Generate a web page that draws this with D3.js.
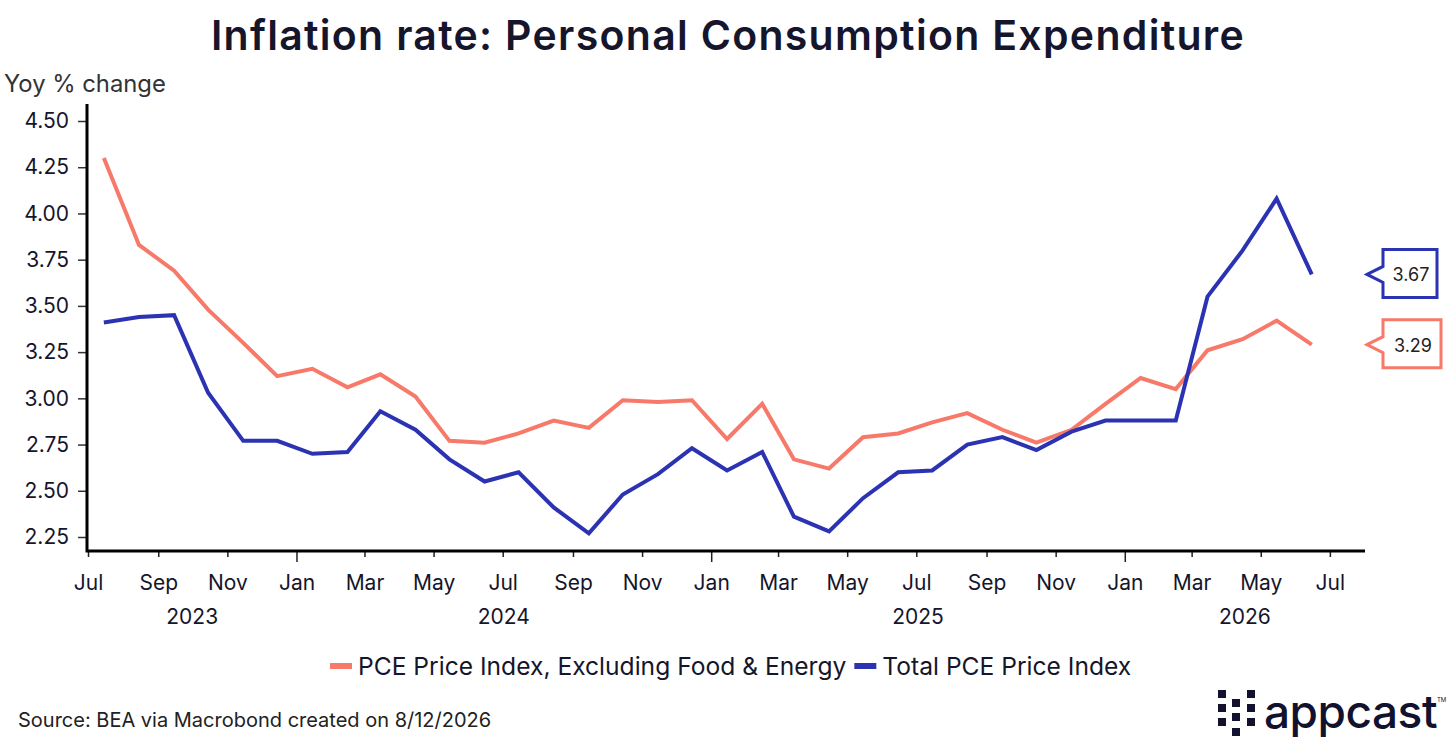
<!DOCTYPE html>
<html>
<head>
<meta charset="utf-8">
<script src="https://cdn.jsdelivr.net/npm/d3@7"></script>
<style>
  body { margin: 0; background: #fff; }
  svg { display: block; font-family: Inter, "Noto Sans", sans-serif; }
</style>
</head>
<body>
<svg id="chart" width="1456" height="753"></svg>
<script>
var months = ["2023-07","2023-08","2023-09","2023-10","2023-11","2023-12",
  "2024-01","2024-02","2024-03","2024-04","2024-05","2024-06",
  "2024-07","2024-08","2024-09","2024-10","2024-11","2024-12",
  "2025-01","2025-02","2025-03","2025-04","2025-05","2025-06",
  "2025-07","2025-08","2025-09","2025-10","2025-11","2025-12",
  "2026-01","2026-02","2026-03","2026-04","2026-05","2026-06"];

var coreValues = [4.30,3.83,3.69,3.48,3.30,3.12,3.16,3.06,3.13,3.01,2.77,2.76,
  2.81,2.88,2.84,2.99,2.98,2.99,2.78,2.97,2.67,2.62,2.79,2.81,
  2.87,2.92,2.83,2.76,2.83,2.97,3.11,3.05,3.26,3.32,3.42,3.29];

var totalValues = [3.41,3.44,3.45,3.03,2.77,2.77,2.70,2.71,2.93,2.83,2.67,2.55,
  2.60,2.41,2.27,2.48,2.59,2.73,2.61,2.71,2.36,2.28,2.46,2.60,
  2.61,2.75,2.79,2.72,2.82,2.88,2.88,2.88,3.55,3.80,4.08,3.67];

var yTicks = [2.25,2.50,2.75,3.00,3.25,3.50,3.75,4.00,4.25,4.50];
var yearLabels = ["2023","2024","2025","2026"];

var seriesNames = ["PCE Price Index, Excluding Food & Energy", "Total PCE Price Index"];
var colors = {core: "#f7796a", total: "#2b33b3"};
var ink = "#15152b";

var svg = d3.select("#chart");
var parseMonth = d3.timeParse("%Y-%m");

var x = d3.scaleTime()
    .domain([new Date(2023, 6, 1), new Date(2026, 7, 1)])
    .range([88, 1365]);

var y = d3.scaleLinear()
    .domain([2.25, 4.5])
    .range([537, 121]);

var axisY = 551;

// title
svg.append("text")
    .attr("x", 728).attr("y", 50)
    .attr("text-anchor", "middle")
    .attr("font-size", 41).attr("font-weight", 600)
    .attr("letter-spacing", 1.3)
    .attr("fill", ink)
    .text("Inflation rate: Personal Consumption Expenditure");

svg.append("text")
    .attr("x", 4).attr("y", 92)
    .attr("font-size", 23.8).attr("fill", "#333")
    .text("Yoy % change");

// y axis
var gy = svg.append("g")
    .attr("transform", "translate(87,0)")
    .call(d3.axisLeft(y).tickValues(yTicks).tickSize(9).tickPadding(9)
        .tickFormat(d3.format(".2f")));
gy.select(".domain").remove();
gy.selectAll("text").attr("font-size", 21).attr("fill", ink).attr("font-family", "Inter");
gy.selectAll("line").attr("stroke", "#333").attr("stroke-width", 1.5);

// x axis ticks every 2 months
var tickDates = d3.timeMonth.every(2).range(new Date(2023, 6, 1), new Date(2026, 7, 2));
var gx = svg.append("g")
    .attr("transform", "translate(0," + axisY + ")")
    .call(d3.axisBottom(x).tickValues(tickDates).tickSize(6).tickPadding(18)
        .tickFormat(d3.timeFormat("%b")));
gx.select(".domain").remove();
gx.selectAll("text").attr("font-size", 21).attr("fill", ink).attr("font-family", "Inter");
gx.selectAll("line")
    .attr("stroke", "#222").attr("stroke-width", 1.5)
    .attr("y2", function(d){ return d.getMonth() === 0 ? 11 : 6; });

// year labels centred over their span
var yearSpans = yearLabels.map(function(yr){
  var a = new Date(+yr, 0, 1), b = new Date(+yr + 1, 0, 1);
  if (a < x.domain()[0]) a = x.domain()[0];
  if (b > x.domain()[1]) b = x.domain()[1];
  return {label: yr, mid: (x(a) + x(b)) / 2};
});
svg.selectAll(".year").data(yearSpans).enter().append("text")
    .attr("class", "year")
    .attr("x", function(d){ return d.mid; })
    .attr("y", 624)
    .attr("text-anchor", "middle")
    .attr("font-size", 21).attr("fill", ink)
    .text(function(d){ return d.label; });

// frame lines
svg.append("path")
    .attr("d", "M87,104V" + axisY + "H1365")
    .attr("fill", "none").attr("stroke", "#000").attr("stroke-width", 3);

// data
function mid(m){ return d3.timeDay.offset(parseMonth(m), 14); }
var line = d3.line()
    .x(function(d){ return x(d.date); })
    .y(function(d){ return y(d.value); });

var series = [
  {key: "core", values: coreValues},
  {key: "total", values: totalValues}
];

series.forEach(function(s){
  var pts = months.map(function(m, i){ return {date: mid(m), value: s.values[i]}; });
  svg.append("path")
      .datum(pts)
      .attr("fill", "none")
      .attr("stroke", colors[s.key])
      .attr("stroke-width", 4)
      .attr("stroke-linejoin", "miter")
      .attr("d", line);
});

// end value callouts
series.forEach(function(s){
  var v = s.values[s.values.length - 1];
  var cy = y(v);
  var left = 1383, w = s.key === "core" ? 58 : 54, h = 48, px = 1367;
  var top = cy - h / 2 - 1;
  svg.append("path")
      .attr("d", "M" + px + "," + cy + "L" + left + "," + (cy - 8) + "V" + top +
           "H" + (left + w) + "V" + (top + h) + "H" + left + "V" + (cy + 8) + "Z")
      .attr("fill", "#fff")
      .attr("stroke", colors[s.key]).attr("stroke-width", 3);
  svg.append("text")
      .attr("x", left + w / 2 + 1).attr("y", cy + 7)
      .attr("text-anchor", "middle")
      .attr("font-size", 18).attr("fill", "#222")
      .text(d3.format(".2f")(v));
});

// legend
var legend = svg.append("g").attr("transform", "translate(330,666)");
var lx = 0;
series.forEach(function(s, i){
  legend.append("rect")
      .attr("x", lx).attr("y", -3).attr("width", 22).attr("height", 6)
      .attr("fill", colors[s.key]);
  var t = legend.append("text")
      .attr("x", lx + 28).attr("y", 9)
      .attr("font-size", 24.6).attr("fill", ink)
      .text(seriesNames[i]);
  lx += 28 + t.node().getComputedTextLength() + 8;
});

// source
svg.append("text")
    .attr("x", 18).attr("y", 727)
    .attr("font-size", 20).attr("fill", "#222")
    .text("Source: BEA via Macrobond created on 8/12/2026");

// logo
var logo = svg.append("g").attr("fill", "#12122e");
var squares = [[1218,690],[1218,704],[1218,718],[1232,699],[1232,713],[1232,728],[1247,690],[1247,704],[1247,718]];
squares.forEach(function(p){
  logo.append("rect").attr("x", p[0]).attr("y", p[1]).attr("width", 8).attr("height", 8);
});
logo.append("text")
    .attr("x", 1264).attr("y", 728)
    .attr("font-size", 46).attr("font-weight", 500)
    .attr("letter-spacing", -0.5)
    .text("appcast");
logo.append("text")
    .attr("x", 1437).attr("y", 702)
    .attr("font-size", 6)
    .text("TM");
</script>
</body>
</html>
